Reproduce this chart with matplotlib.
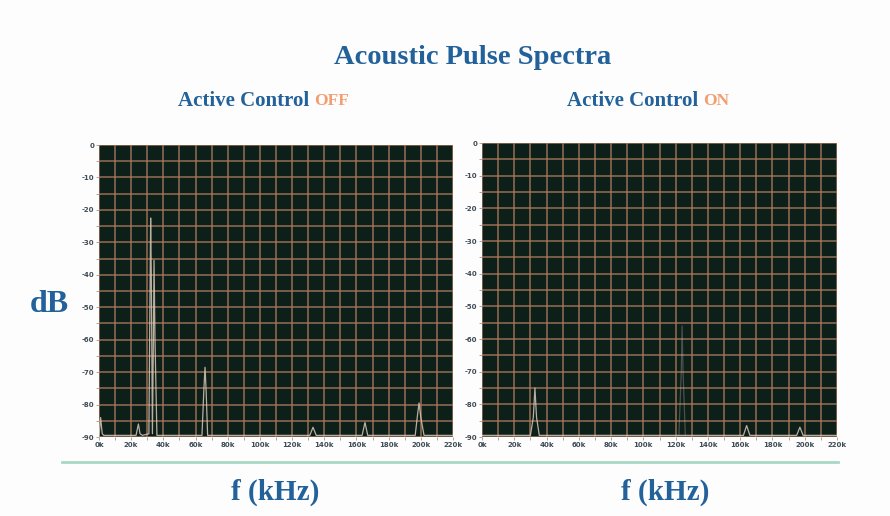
import matplotlib
matplotlib.use("Agg")
import matplotlib.pyplot as plt
from matplotlib.lines import Line2D

# ---- data ----
title = "Acoustic Pulse Spectra"
panel_titles = ["Active Control ", "Active Control "]
panel_states = ["OFF", "ON"]
x_ticks = [0, 20, 40, 60, 80, 100, 120, 140, 160, 180, 200, 220]
x_ticklabels = ["0k", "20k", "40k", "60k", "80k", "100k", "120k", "140k", "160k", "180k", "200k", "220k"]
y_ticks = [0, -10, -20, -30, -40, -50, -60, -70, -80, -90]
y_ticklabels = ["0", "-10", "-20", "-30", "-40", "-50", "-60", "-70", "-80", "-90"]

# Active control OFF spectrum (kHz, dB)
off_freq = [0.0, 1.0, 2.0, 3.0, 23.0, 24.5, 25.5, 27.0, 31.0, 31.8, 32.1, 32.5, 33.2, 33.8,
            34.2, 34.8, 36.0, 64.0, 65.2, 65.9, 66.6, 67.5, 131.0, 133.0, 135.0,
            163.5, 165.3, 167.0, 196.5, 198.0, 198.9, 200.0, 202.0, 220.0]
off_db = [-90.0, -84.0, -89.0, -89.5, -89.5, -86.0, -89.0, -89.5, -89.0, -40.0, -22.5, -40.0,
          -89.0, -60.0, -35.5, -60.0, -89.5, -89.5, -75.0, -68.5, -76.0, -89.5, -89.5, -87.0,
          -89.5, -89.5, -85.5, -89.5, -89.5, -83.0, -79.5, -84.0, -89.5, -89.5]

# Active control ON spectrum (kHz, dB)
on_freq = [0.0, 30.0, 31.8, 32.8, 33.8, 35.5, 162.0, 164.0, 166.0, 195.0, 197.0, 199.0, 220.0]
on_db = [-89.5, -89.5, -84.0, -75.0, -84.0, -89.5, -89.5, -86.5, -89.5, -89.5, -87.0, -89.5, -89.5]
# faint component of the ON spectrum
on_faint_freq = [122.0, 123.5, 124.0, 124.6, 126.0]
on_faint_db = [-89.5, -70.0, -56.0, -70.0, -89.5]

spectra = [[(off_freq, off_db, 0.85)],
           [(on_freq, on_db, 0.85), (on_faint_freq, on_faint_db, 0.3)]]

# ---- style ----
blue = "#22619a"
orange = "#f0864e"
panel_bg = "#0c1f19"
grid_col = "#b07a5c"
trace_col = "#d8c8b8"

fig = plt.figure(figsize=(8.9, 5.16), dpi=100)
fig.patch.set_facecolor("#fdfdfd")

W, H = 890.0, 516.0
boxes = [(99, 145, 453, 437), (482, 143, 837, 437)]
for (x0, y0, x1, y1), traces in zip(boxes, spectra):
    ax = fig.add_axes([x0 / W, 1 - y1 / H, (x1 - x0) / W, (y1 - y0) / H])
    ax.set_facecolor(panel_bg)
    for fq, db, al in traces:
        ax.plot(fq, db, color=trace_col, lw=0.9, alpha=al, zorder=3)
    ax.set_xlim(0, 220)
    ax.set_ylim(-90, 0)
    ax.set_xticks(range(0, 221, 10))
    ax.set_yticks(range(-90, 1, 5))
    ax.grid(True, color=grid_col, lw=1.1, alpha=0.85, zorder=1)
    ax.set_xticklabels([x_ticklabels[x_ticks.index(v)] if v in x_ticks else "" for v in range(0, 221, 10)],
                       fontsize=5, color="#3f4b55", fontweight="bold")
    ax.set_yticklabels([y_ticklabels[y_ticks.index(v)] if v in y_ticks else "" for v in range(-90, 1, 5)],
                       fontsize=5, color="#3f4b55", fontweight="bold")
    ax.tick_params(length=2, width=0.6, color="#999999", pad=1.5)
    for s in ax.spines.values():
        s.set_visible(False)

serif = "Liberation Serif"
fig.text(473 / W, 1 - 58 / H, title, ha="center", va="center", fontsize=20.5,
         fontweight="bold", family=serif, color=blue)

sub_pos = [(178, 101), (567, 101)]
for (sx, sy), t, st in zip(sub_pos, panel_titles, panel_states):
    txt = fig.text(sx / W, 1 - sy / H, t, ha="left", va="center", fontsize=15,
                   fontweight="bold", family=serif, color=blue)
    fig.canvas.draw()
    bb = txt.get_window_extent()
    fig.text(bb.x1 / W, 1 - sy / H, st, ha="left", va="center", fontsize=12.5,
             fontweight="bold", family=serif, color=orange, alpha=0.8)

fig.text(49 / W, 1 - 305 / H, "dB", ha="center", va="center", fontsize=23,
         fontweight="bold", family=serif, color=blue)
for cx in (275, 665):
    fig.text(cx / W, 1 - 492 / H, "f (kHz)", ha="center", va="center", fontsize=21,
             fontweight="bold", family=serif, color=blue)

fig.add_artist(Line2D([62 / W, 838 / W], [1 - 462 / H, 1 - 462 / H], color="#a8d8c4", lw=2))

fig.savefig("out.png", dpi=100, facecolor=fig.get_facecolor())
